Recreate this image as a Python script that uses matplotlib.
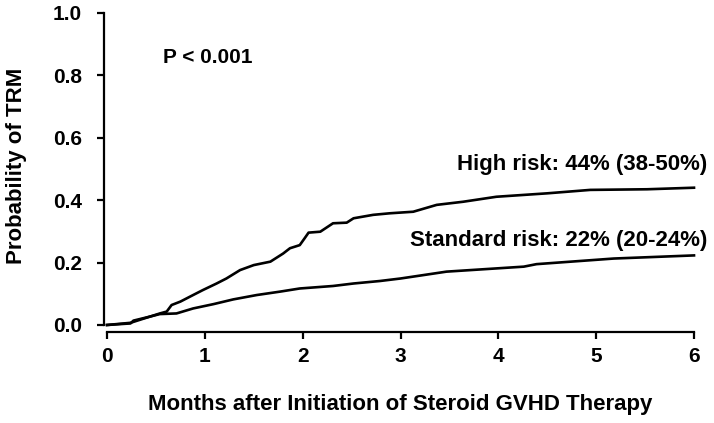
import matplotlib
matplotlib.use("Agg")
import matplotlib.pyplot as plt

plt.rcParams["font.family"] = ["Liberation Sans", "DejaVu Sans"]
plt.rcParams["font.weight"] = "bold"

# months after start of steroid therapy / cumulative incidence of TRM
high_x = [0, 0.24, 0.27, 0.44, 0.54, 0.61, 0.66, 0.75, 0.88, 0.98, 1.12, 1.22,
          1.36, 1.50, 1.67, 1.80, 1.87, 1.97, 2.02, 2.06, 2.18, 2.31, 2.45,
          2.52, 2.72, 2.89, 3.13, 3.37, 3.64, 3.98, 4.50, 4.94, 5.52, 6.0]
high_y = [0, 0.005, 0.014, 0.027, 0.037, 0.043, 0.064, 0.075, 0.096, 0.112,
          0.133, 0.149, 0.176, 0.192, 0.203, 0.229, 0.246, 0.256, 0.278,
          0.296, 0.299, 0.326, 0.328, 0.342, 0.353, 0.358, 0.363, 0.385,
          0.395, 0.411, 0.422, 0.433, 0.435, 0.44]

std_x = [0, 0.24, 0.44, 0.54, 0.71, 0.88, 1.09, 1.29, 1.53, 1.77, 1.97, 2.31,
         2.52, 2.79, 3.0, 3.47, 4.26, 4.39, 5.18, 6.0]
std_y = [0, 0.007, 0.027, 0.035, 0.037, 0.053, 0.067, 0.082, 0.096, 0.107,
         0.117, 0.125, 0.133, 0.141, 0.149, 0.171, 0.187, 0.195, 0.213, 0.223]

x_ticks = [0, 1, 2, 3, 4, 5, 6]
y_ticks = [0.0, 0.2, 0.4, 0.6, 0.8, 1.0]

fig = plt.figure(figsize=(7.14, 4.23), dpi=100)
ax = fig.add_axes([0.1499, 0.2317, 0.8221, 0.7376])

ax.plot(high_x, high_y, color="black", lw=1.9, clip_on=False)
ax.plot(std_x, std_y, color="black", lw=1.9, clip_on=False)

ax.set_xlim(0, 6)
ax.set_ylim(0, 1)
ax.set_xticks(x_ticks)
ax.set_yticks(y_ticks)
ax.set_yticklabels([f"{v:.1f}" for v in y_ticks])

for s in ["top", "right"]:
    ax.spines[s].set_visible(False)
ax.spines["left"].set_position(("outward", 2))
ax.spines["bottom"].set_position(("outward", 5))
ax.spines["left"].set_bounds(0, 1)
ax.spines["bottom"].set_bounds(0, 6)
for s in ["left", "bottom"]:
    ax.spines[s].set_linewidth(1.6)
ax.tick_params(axis="both", width=1.6, length=5, labelsize=15)
ax.tick_params(axis="y", pad=11)
ax.tick_params(axis="x", pad=6)

ax.set_xlabel("Months after Initiation of Steroid GVHD Therapy", fontsize=16, fontweight="bold")
ax.xaxis.set_label_coords(0.5, -0.222)
ax.set_ylabel("Probability of TRM", fontsize=16, fontweight="bold")
ax.yaxis.set_label_coords(-0.136, 0.51)

ax.text(0.57, 0.856, "P < 0.001", fontsize=15, fontweight="bold", va="center")
ax.text(6.14, 0.513, "High risk: 44% (38-50%)", fontsize=16, fontweight="bold",
        ha="right", va="center")
ax.text(6.14, 0.272, "Standard risk: 22% (20-24%)", fontsize=16, fontweight="bold",
        ha="right", va="center")

plt.savefig("out.png", dpi=100)
